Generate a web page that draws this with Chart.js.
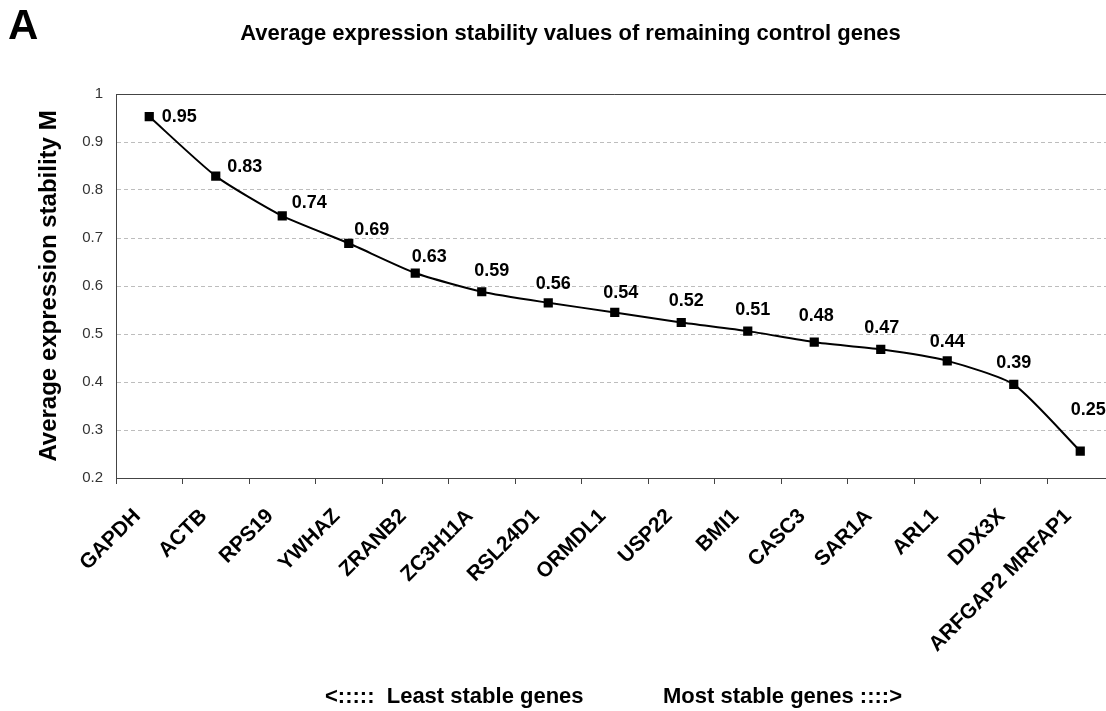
<!DOCTYPE html>
<html>
<head>
<meta charset="utf-8">
<script src="https://cdn.jsdelivr.net/npm/chart.js@4.4.1/dist/chart.umd.min.js"></script>
<style>
  html, body { margin: 0; padding: 0; background: #fff; overflow: hidden; width: 1106px; height: 711px; }
  #wrap { position: relative; width: 1120px; height: 711px; }
  canvas { position: absolute; left: 0; top: 0; }
  .txt { position: absolute; font-family: "Liberation Sans", Arial, sans-serif; font-weight: bold; color: #000; white-space: pre; }
</style>
</head>
<body>
<div id="wrap">
  <canvas id="c" width="1120" height="711"></canvas>
  <div class="txt" id="panel" style="left:8px; top:1px; font-size:42px;">A</div>
  <div class="txt" id="title" style="left:0; width:1141px; text-align:center; top:20px; font-size:22px;">Average expression stability values of remaining control genes</div>
  <div class="txt" style="left:325px; top:683px; font-size:22px;">&lt;:::::  Least stable genes</div>
  <div class="txt" style="left:663px; top:683px; font-size:22px;">Most stable genes ::::&gt;</div>
</div>
<script>
const genes = ["GAPDH","ACTB","RPS19","YWHAZ","ZRANB2","ZC3H11A","RSL24D1","ORMDL1","USP22","BMI1","CASC3","SAR1A","ARL1","DDX3X","ARFGAP2 MRFAP1"];
const stabilityM = [0.953,0.829,0.746,0.689,0.627,0.588,0.565,0.545,0.524,0.506,0.483,0.468,0.444,0.395,0.256];
const valueLabels = ["0.95","0.83","0.74","0.69","0.63","0.59","0.56","0.54","0.52","0.51","0.48","0.47","0.44","0.39","0.25"];
const yTicks = [0.2,0.3,0.4,0.5,0.6,0.7,0.8,0.9,1];

// label placement (style)
const labelDx = [30,29,27,23,14,10,5,6,5,5,2,1,0,0,8];
const labelDy = [0,-9,-13,-13,-16,-21,-19,-19,-21,-21,-26,-21,-19,-21,-41];

const FONT = "'Liberation Sans', Arial, sans-serif";

const valueLabelPlugin = {
  id: 'valueLabels',
  afterDatasetsDraw(chart) {
    const ctx = chart.ctx;
    const meta = chart.getDatasetMeta(0);
    ctx.save();
    ctx.font = "bold 18px " + FONT;
    ctx.fillStyle = "#000";
    ctx.textAlign = "center";
    ctx.textBaseline = "middle";
    meta.data.forEach((p, i) => {
      ctx.fillText(valueLabels[i], p.x + labelDx[i], p.y + labelDy[i]);
    });
    ctx.restore();
  }
};

const topBorderPlugin = {
  id: 'topBorder',
  beforeDatasetsDraw(chart) {
    const a = chart.chartArea, ctx = chart.ctx;
    ctx.save();
    ctx.strokeStyle = "#444";
    ctx.lineWidth = 1;
    ctx.beginPath();
    ctx.moveTo(a.left, Math.round(a.top) + 0.5);
    ctx.lineTo(a.right, Math.round(a.top) + 0.5);
    ctx.moveTo(Math.round(a.right) - 0.5, a.top);
    ctx.lineTo(Math.round(a.right) - 0.5, a.bottom);
    ctx.stroke();
    ctx.restore();
  }
};

new Chart(document.getElementById('c'), {
  type: 'line',
  data: {
    labels: genes,
    datasets: [{
      data: stabilityM,
      borderColor: '#000',
      backgroundColor: '#000',
      borderWidth: 2,
      tension: 0.2,
      pointStyle: 'rect',
      pointRadius: 6.5,
      pointHoverRadius: 6.5,
      pointBackgroundColor: '#000',
      pointBorderColor: '#000',
      pointBorderWidth: 0,
      fill: false
    }]
  },
  options: {
    responsive: false,
    animation: false,
    devicePixelRatio: 1,
    layout: { padding: { top: 94, right: 5, left: 0, bottom: 0 } },
    plugins: { legend: { display: false }, tooltip: { enabled: false }, title: { display: false } },
    scales: {
      x: {
        type: 'category',
        offset: true,
        grid: { offset: true, drawOnChartArea: false, drawTicks: true, tickLength: 6, color: '#444', lineWidth: 1 },
        border: { display: true, color: '#444', width: 1 },
        ticks: {
          autoSkip: false, maxRotation: 45, minRotation: 45, padding: 20, labelOffset: -12,
          color: '#000', font: { family: FONT, weight: 'bold', size: 21 }
        },
        afterFit(scale) { scale.height = 233; }
      },
      y: {
        min: 0.2, max: 1,
        afterBuildTicks(scale) { scale.ticks = yTicks.map(v => ({ value: v })); },
        grid: { drawTicks: false, color: '#bdbdbd', lineWidth: 1 },
        border: { display: true, color: '#444', width: 1, dash: [4, 3] },
        ticks: {
          padding: 13, color: '#333', font: { family: FONT, size: 15 },
          callback: v => String(+Number(v).toFixed(1))
        },
        title: {
          display: true, text: 'Average expression stability M', color: '#000',
          font: { family: FONT, weight: 'bold', size: 24 }, padding: { top: 35, bottom: 0 }
        },
        afterFit(scale) { scale.width = 116; }
      }
    }
  },
  plugins: [topBorderPlugin, valueLabelPlugin]
});
</script>
</body>
</html>
